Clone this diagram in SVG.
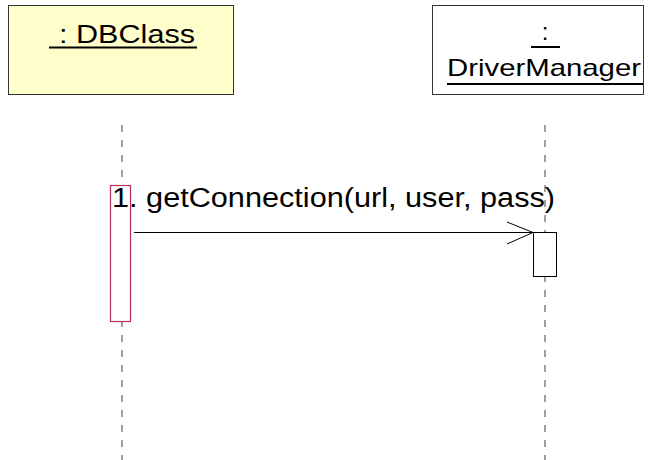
<svg xmlns="http://www.w3.org/2000/svg" width="648" height="460" viewBox="0 0 648 460">
<style>
.lbl{font-family:"Liberation Sans",Arial,sans-serif;font-size:24px;fill:#000}
.ul{stroke:#000;stroke-width:2}
.life{stroke:#808080;stroke-width:1.5;stroke-dasharray:7 8;fill:none}
.msg{stroke:#000;stroke-width:1;fill:none}
</style>
<rect width="648" height="460" fill="#fff"/>
<g id="lifelines">
<line class="life" x1="122" y1="125" x2="122" y2="460"/>
<line class="life" x1="545" y1="125" x2="545" y2="460"/>
</g>
<g id="dbclass">
<rect x="8.5" y="5.5" width="225" height="89" fill="#ffffcc" stroke="#333" stroke-width="1"/>
<text class="lbl" x="59" y="43" textLength="136" lengthAdjust="spacingAndGlyphs" style="font-size:25px">: DBClass</text>
<line class="ul" x1="49" y1="47.5" x2="197" y2="47.5"/>
</g>
<g id="drivermanager">
<rect x="432.5" y="5.5" width="211" height="89" fill="#fff" stroke="#333" stroke-width="1"/>
<text class="lbl" x="545" y="40" text-anchor="middle">:</text>
<line class="ul" x1="531" y1="47" x2="560" y2="47"/>
<text class="lbl" x="447" y="75.5" textLength="194" lengthAdjust="spacingAndGlyphs">DriverManager</text>
<line class="ul" x1="447" y1="84" x2="643" y2="84"/>
</g>
<g id="activation-dbclass">
<rect x="110.5" y="185.5" width="20" height="136" fill="#fff" stroke="#b8305e" stroke-width="1.2"/>
</g>
<g id="activation-drivermanager">
<rect x="533.5" y="232.5" width="23" height="44" fill="#fff" stroke="#000" stroke-width="1"/>
</g>
<g id="connectors">
<line class="msg" x1="134" y1="232.5" x2="533" y2="232.5"/>
<polyline class="msg" points="507,222 533,232.5 507,244" stroke-width="1.6"/>
<text class="lbl" x="112" y="206.5" textLength="443" lengthAdjust="spacingAndGlyphs" style="font-size:27px">1. getConnection(url, user, pass)</text>
</g>
</svg>
